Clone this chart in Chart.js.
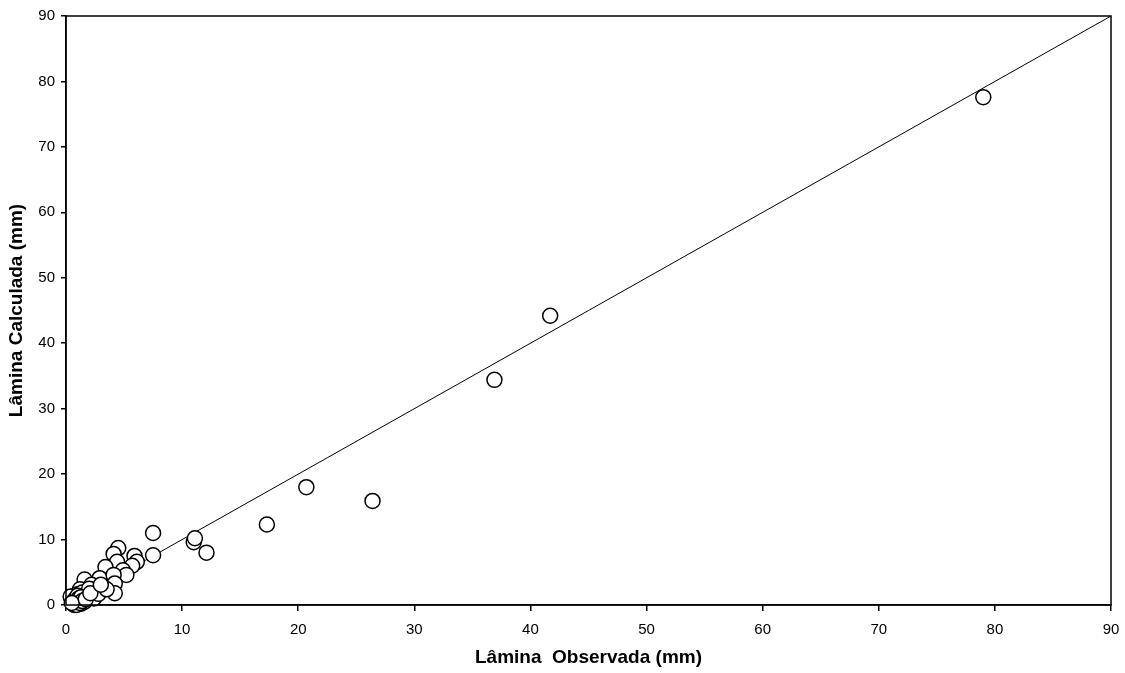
<!DOCTYPE html>
<html>
<head>
<meta charset="utf-8">
<script src="https://cdn.jsdelivr.net/npm/chart.js@4/dist/chart.umd.min.js"></script>
<style>
  html, body { margin: 0; padding: 0; background: #fff; }
  #wrap { width: 1125px; height: 673px; }
</style>
</head>
<body>
<div id="wrap"><canvas id="c" width="1125" height="673"></canvas></div>
<script>
const obsX = [79.0, 41.7, 36.9, 26.4, 20.7, 17.3, 12.1, 11.0, 11.1, 7.5, 7.5,
  4.5, 4.1, 4.4, 5.9, 6.1, 5.7, 4.9, 5.2, 3.4, 2.9, 4.1, 4.2, 4.2,
  1.6, 2.2, 3.2, 2.6, 1.9, 1.2, 0.9, 1.4, 0.6, 0.8, 1.1, 1.5, 1.8, 2.4, 2.8, 1.0, 0.7, 1.3, 1.6, 3.5, 0.5, 1.0, 2.0,
  0.4, 0.6, 0.8, 0.9, 1.0, 1.1, 1.2, 1.3, 0.7, 0.9, 1.2, 1.4, 0.5, 1.7, 2.1, 3.0];
const calcY = [77.6, 44.2, 34.4, 15.9, 18.0, 12.3, 8.0, 9.6, 10.2, 11.0, 7.6,
  8.7, 7.8, 6.6, 7.5, 6.6, 6.0, 5.3, 4.6, 5.8, 4.1, 4.6, 3.3, 1.8,
  3.9, 3.1, 2.6, 2.0, 1.3, 2.4, 1.6, 1.9, 1.2, 0.3, 0.6, 0.9, 1.5, 1.0, 1.7, 0.1, 0.0, 0.2, 0.5, 2.4, 0.8, 1.1, 2.5,
  1.3, 0.5, 0.9, 0.4, 1.4, 1.0, 0.7, 1.2, 0.2, 0.0, 0.3, 0.6, 0.3, 0.9, 1.8, 3.1];
const lineX = [0, 90];
const tickMax = 90;

const points = obsX.map((x, i) => ({ x: x, y: calcY[i] }));
const oneToOne = lineX.map(v => ({ x: v, y: v }));

const boxPlugin = {
  id: 'box',
  afterDraw(chart) {
    const a = chart.chartArea, ctx = chart.ctx;
    ctx.save();
    ctx.strokeStyle = '#000';
    ctx.lineWidth = 1.5;
    ctx.strokeRect(a.left, a.top, a.right - a.left, a.bottom - a.top);
    ctx.restore();
  }
};

const family = 'Arial, "Liberation Sans", sans-serif';
const font = { family: family, size: 15 };
const titleFont = { family: family, size: 19, weight: 'bold' };

new Chart(document.getElementById('c').getContext('2d'), {
  type: 'scatter',
  data: {
    datasets: [
      { data: oneToOne, showLine: true, borderColor: '#000', borderWidth: 1, pointRadius: 0, order: 2 },
      { data: points, pointStyle: 'circle', pointRadius: 7.5, pointBorderWidth: 1.5, clip: false,
        borderColor: '#000', backgroundColor: '#fff', order: 1 }
    ]
  },
  plugins: [boxPlugin],
  options: {
    responsive: false,
    animation: false,
    layout: { padding: { top: 16, right: 14, left: 0, bottom: 0 } },
    plugins: { legend: { display: false }, tooltip: { enabled: false } },
    scales: {
      x: {
        type: 'linear', min: 0, max: tickMax,
        ticks: { stepSize: 10, color: '#000', font: font, padding: 10 },
        grid: { drawOnChartArea: false, drawTicks: true, tickLength: 6, color: '#000', lineWidth: 1.5 },
        border: { color: '#000', width: 1.5 },
        title: { display: true, text: 'Lâmina  Observada (mm)', color: '#000',
          font: titleFont, padding: { top: 2 } },
        afterFit(s) { s.height = 68; s.paddingLeft = 0; s.paddingRight = 0; }
      },
      y: {
        type: 'linear', min: 0, max: tickMax,
        ticks: { stepSize: 10, color: '#000', font: font, padding: 6 },
        grid: { drawOnChartArea: false, drawTicks: true, tickLength: 5, color: '#000', lineWidth: 1.5 },
        border: { color: '#000', width: 1.5 },
        title: { display: true, text: 'Lâmina Calculada (mm)', color: '#000',
          font: titleFont, padding: { top: 5, bottom: 0 } },
        afterFit(s) { s.width = 66; s.paddingTop = 0; s.paddingBottom = 0; }
      }
    }
  }
});
</script>
</body>
</html>
